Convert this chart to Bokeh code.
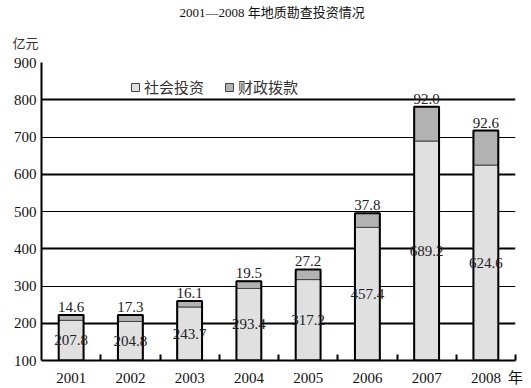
from bokeh.plotting import figure
from bokeh.models import (ColumnDataSource, FixedTicker, Grid, Legend, LegendItem,
                          LabelSet, Range1d, Title)
from bokeh.embed import file_html
from bokeh.resources import INLINE

# ---- data ----
years = [2001, 2002, 2003, 2004, 2005, 2006, 2007, 2008]
social = [207.8, 204.8, 243.7, 293.4, 317.2, 457.4, 689.2, 624.6]   # 社会投资
fiscal = [14.6, 17.3, 16.1, 19.5, 27.2, 37.8, 92.0, 92.6]          # 财政拨款
y_ticks = [100, 200, 300, 400, 500, 600, 700, 800, 900]
series_names = ["社会投资", "财政拨款"]
title_text = "2001—2008 年地质勘查投资情况"
y_unit = "亿元"
x_unit = "年"

Y_MIN, Y_MAX = y_ticks[0], y_ticks[-1]
total = [s + f for s, f in zip(social, fiscal)]
src = ColumnDataSource(dict(
    year=years, social=social, fiscal=fiscal, total=total,
    social_lbl=[f"{v:.1f}" for v in social],
    fiscal_lbl=[f"{v:.1f}" for v in fiscal],
    social_mid=[(Y_MIN + v) / 2 for v in social],
))

NUM_FONT = "Liberation Serif"
CJK_FONT = "Noto Sans CJK SC"
MIX_FONT = "Liberation Serif, Noto Sans CJK SC"

p = figure(width=531, height=388, output_backend="svg", toolbar_location=None,
           x_range=Range1d(years[0] - 0.5, years[-1] + 0.5),
           y_range=Range1d(Y_MIN, Y_MAX),
           min_border_left=41, min_border_right=16, min_border_top=62, min_border_bottom=26)
p.outline_line_color = None
p.xgrid.visible = False
p.ygrid.visible = False

# main title (outermost) and unit label (above the y axis)
p.title.text = title_text
p.title.align = "left"
p.title.offset = 138
p.title.standoff = 0
p.title.text_font = MIX_FONT
p.title.text_font_size = "13px"
p.title.text_font_style = "normal"
p.title.text_color = "#111111"
p.add_layout(Title(text=y_unit, align="left", offset=-29, standoff=22,
                   text_font=CJK_FONT, text_font_size="13px", text_font_style="normal",
                   text_color="#333333"), "above")

# grid lines (alternating weights like the original)
thick = Grid(dimension=1, ticker=FixedTicker(ticks=[t for t in y_ticks[1:] if t % 200 == 0]),
             grid_line_color="black", grid_line_width=2)
thin = Grid(dimension=1, ticker=FixedTicker(ticks=[t for t in y_ticks[1:] if t % 200 != 0]),
            grid_line_color="black", grid_line_width=1)
p.add_layout(thick)
p.add_layout(thin)

BAR_W = 0.42
lo = p.vbar(x="year", width=BAR_W, bottom=0, top="social", source=src,
            fill_color="#e0e0e0", line_color="#444444", line_width=1)
hi = p.vbar(x="year", width=BAR_W, bottom="social", top="total", source=src,
            fill_color="#b2b2b2", line_color="#444444", line_width=1)
p.vbar(x="year", width=BAR_W, bottom=0, top="total", source=src,
       fill_color=None, line_color="black", line_width=2)

# axes
x_edge = years[-1] + 0.5
xa = p.xaxis[0]
xa.ticker = FixedTicker(ticks=years + [x_edge], minor_ticks=[y + 0.5 for y in years])
overrides = {y: str(y) for y in years}
overrides[x_edge] = x_unit
xa.major_label_overrides = overrides
xa.axis_line_color = "black"
xa.axis_line_width = 2
xa.major_tick_in = 0
xa.major_tick_out = 0
xa.minor_tick_in = 6
xa.minor_tick_out = 0
xa.minor_tick_line_color = "black"
xa.minor_tick_line_width = 2
xa.major_label_text_font = MIX_FONT
xa.major_label_text_font_size = "15px"
xa.major_label_text_color = "#111111"
xa.major_label_standoff = 9

ya = p.yaxis[0]
ya.ticker = FixedTicker(ticks=y_ticks)
ya.axis_line_color = "black"
ya.axis_line_width = 2
ya.major_tick_in = 0
ya.major_tick_out = 0
ya.minor_tick_in = 0
ya.minor_tick_out = 0
ya.major_label_text_font = NUM_FONT
ya.major_label_text_font_size = "15px"
ya.major_label_text_color = "#111111"
ya.major_label_standoff = 5

# value labels
p.add_layout(LabelSet(x="year", y="total", text="fiscal_lbl", source=src,
                      y_offset=3, text_align="center", text_baseline="bottom",
                      text_font=NUM_FONT, text_font_size="15px", text_color="#222222"))
p.add_layout(LabelSet(x="year", y="social_mid", text="social_lbl", source=src,
                      text_align="center", text_baseline="middle",
                      text_font=NUM_FONT, text_font_size="15px", text_color="#222222"))

# legend
legend = Legend(items=[LegendItem(label=series_names[0], renderers=[lo]),
                       LegendItem(label=series_names[1], renderers=[hi])],
                orientation="horizontal", location=(89, 263), padding=0, margin=0,
                spacing=20, glyph_width=10, glyph_height=10, label_standoff=4,
                label_text_font=CJK_FONT, label_text_font_size="15px",
                label_text_color="#333333", border_line_color=None,
                background_fill_alpha=0)
p.add_layout(legend)

open("out.html", "w").write(file_html(p, INLINE))
